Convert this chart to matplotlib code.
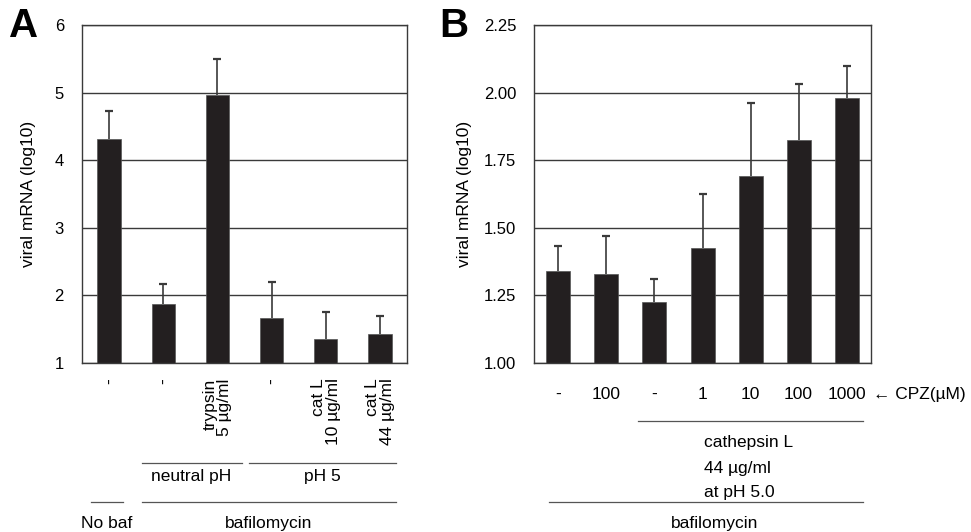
import matplotlib

matplotlib.use("Agg")
import matplotlib.pyplot as plt
import matplotlib.transforms as mtransforms
import numpy as np

plt.rcParams["font.family"] = ["Liberation Sans", "DejaVu Sans"]
plt.rcParams["font.size"] = 12

# --- data ---
# panel A
a_labels = ["-", "-", "trypsin\n5 µg/ml", "-", "cat L\n10 µg/ml", "cat L\n44 µg/ml"]
a_values = [4.32, 1.87, 4.97, 1.66, 1.36, 1.43]
a_errors = [0.41, 0.30, 0.52, 0.54, 0.40, 0.27]

# panel B
b_labels = ["-", "100", "-", "1", "10", "100", "1000"]
b_values = [1.34, 1.33, 1.225, 1.427, 1.69, 1.825, 1.98]
b_errors = [0.093, 0.14, 0.086, 0.197, 0.27, 0.208, 0.117]

bar_color = "#231f20"
line_color = "#3a3a3a"
txt_size = 12.5

fig = plt.figure(figsize=(9.71, 5.32), dpi=100)
ax_a = fig.add_axes([0.0845, 0.3177, 0.3347, 0.6353])
ax_b = fig.add_axes([0.5503, 0.3177, 0.3464, 0.6353])


def style_axes(ax):
    ax.set_axisbelow(True)
    ax.yaxis.grid(True, color=line_color, linewidth=1.0)
    for s in ax.spines.values():
        s.set_color(line_color)
        s.set_linewidth(1.0)
    ax.tick_params(axis="both", length=0)
    ax.tick_params(axis="y", pad=13)


def draw_bars(ax, values, errors, width):
    x = np.arange(len(values))
    values = np.asarray(values)
    tops = values + np.asarray(errors)
    ax.bar(x, values, width=width, color=bar_color, edgecolor="#555555", linewidth=0.5, zorder=2)
    # upper error bars only, with a single cap
    ax.vlines(x, values, tops, color=line_color, linewidth=1.2, zorder=3)
    ax.plot(x, tops, linestyle="none", marker="_", markersize=6, markeredgewidth=1.6,
            color=line_color, zorder=3)
    ax.set_xlim(-0.5, len(values) - 0.5)
    return x


# --- panel A ---
x = draw_bars(ax_a, a_values, a_errors, 0.43)
ax_a.set_ylim(1, 6)
ax_a.set_yticks([1, 2, 3, 4, 5, 6])
ax_a.set_xticks(x)
ax_a.set_xticklabels(a_labels, rotation=90, multialignment="right", linespacing=1.0,
                     fontsize=txt_size)
style_axes(ax_a)
ax_a.tick_params(axis="x", pad=11)
ax_a.set_ylabel("viral mRNA (log10)", fontsize=txt_size)
ax_a.yaxis.set_label_coords(-0.142, 0.5)

ta = mtransforms.blended_transform_factory(ax_a.transData, fig.transFigure)
for x0, x1, y in [(0.60, 2.45, 0.1297), (2.58, 5.30, 0.1297),
                  (-0.34, 0.26, 0.0564), (0.60, 5.30, 0.0564)]:
    ax_a.plot([x0, x1], [y, y], color="#555555", linewidth=0.9, transform=ta, clip_on=False)
ax_a.text(1.52, 0.1034, "neutral pH", transform=ta, ha="center", va="center", fontsize=txt_size)
ax_a.text(3.94, 0.1034, "pH 5", transform=ta, ha="center", va="center", fontsize=txt_size)
ax_a.text(-0.05, 0.0169, "No baf", transform=ta, ha="center", va="center", fontsize=txt_size)
ax_a.text(2.95, 0.0169, "bafilomycin", transform=ta, ha="center", va="center", fontsize=txt_size)

# --- panel B ---
x = draw_bars(ax_b, b_values, b_errors, 0.5)
ax_b.set_ylim(1, 2.25)
ax_b.set_yticks([1.0, 1.25, 1.5, 1.75, 2.0, 2.25])
ax_b.set_yticklabels([f"{v:.2f}" for v in [1.0, 1.25, 1.5, 1.75, 2.0, 2.25]])
ax_b.set_xticks(x)
ax_b.set_xticklabels(b_labels, fontsize=txt_size)
style_axes(ax_b)
ax_b.tick_params(axis="x", pad=17)
ax_b.set_ylabel("viral mRNA (log10)", fontsize=txt_size)
ax_b.yaxis.set_label_coords(-0.185, 0.5)

tb = mtransforms.blended_transform_factory(ax_b.transData, fig.transFigure)
ax_b.text(6.55, 1 - 395 / 532, "← CPZ(µM)", transform=tb, ha="left", va="center",
          fontsize=txt_size)
for x0, x1, y in [(1.66, 6.33, 0.2086), (-0.19, 6.33, 0.0564)]:
    ax_b.plot([x0, x1], [y, y], color="#555555", linewidth=0.9, transform=tb, clip_on=False)
for txt, ypx in [("cathepsin L", 443), ("44 µg/ml", 468), ("at pH 5.0", 492)]:
    ax_b.text(3.03, 1 - ypx / 532, txt, transform=tb, ha="left", va="center", fontsize=txt_size)
ax_b.text(3.26, 0.0169, "bafilomycin", transform=tb, ha="center", va="center", fontsize=txt_size)

# panel letters
fig.text(9 / 971, 1 - 7 / 532, "A", fontsize=29, fontweight="bold", va="top", ha="left")
fig.text(439 / 971, 1 - 7 / 532, "B", fontsize=29, fontweight="bold", va="top", ha="left")

fig.savefig("out.png", dpi=100)
